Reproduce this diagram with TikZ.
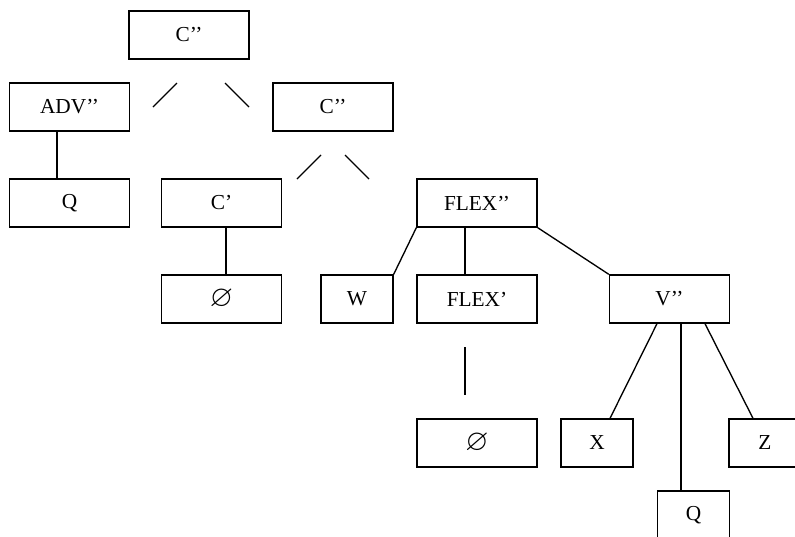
\documentclass[tikz,border=0pt]{standalone}
\usepackage{amssymb}
\usepackage{graphicx}
\usepackage{fontspec}
\setmainfont{Liberation Serif}
\usetikzlibrary{calc}
\newcommand{\nullcat}{\raisebox{-0.5pt}{\scalebox{1.4}{$\varnothing$}}}
\begin{document}
\begin{tikzpicture}[x=0.75pt,y=-0.75pt,
  every node/.style={font=\fontsize{16pt}{19pt}\selectfont},
  wide/.style={draw,line width=1pt,rectangle,inner sep=0pt,minimum width=90pt,minimum height=36pt},
  narrow/.style={draw,line width=1pt,rectangle,inner sep=0pt,minimum width=54pt,minimum height=36pt},
  link/.style={line width=1pt}]
\useasboundingbox (0,0) rectangle (795,536);
\clip (0,0) rectangle (795,536);

% tree nodes
\node[wide]   (top)   at (189,35)    {C’’};
\node[wide]   (adv)   at (69.5,107)  {ADV’’};
\node[wide]   (cbar2) at (333,107)   {C’’};
\node[wide]   (qa)    at (69.5,203)  {Q};
\node[wide]   (cbar1) at (221.5,203) {C’};
\node[wide]   (flex2) at (477,203)   {FLEX’’};
\node[wide]   (nulla) at (221.5,299) {\nullcat};
\node[narrow] (w)     at (357,299)   {W};
\node[wide]   (flex1) at (477,299)   {FLEX’};
\node[wide]   (v2)    at (669.5,299) {V’’};
\node[wide]   (nullb) at (477,443)   {\nullcat};
\node[narrow] (x)     at (597,443)   {X};
\node[narrow] (z)     at (765,443)   {Z};
\node[narrow] (qb)    at (693.5,515) {Q};

% free-standing branch strokes
\coordinate (a1) at (153,107); \coordinate (a2) at (177,83);
\coordinate (b1) at (225,83);  \coordinate (b2) at (249,107);
\coordinate (c1) at (297,179); \coordinate (c2) at (321,155);
\coordinate (d1) at (345,155); \coordinate (d2) at (369,179);
\coordinate (e1) at (465,347); \coordinate (e2) at (465,395);
\draw[link] (a1) -- (a2);
\draw[link] (b1) -- (b2);
\draw[link] (c1) -- (c2);
\draw[link] (d1) -- (d2);
\draw[link] (e1) -- (e2);

% connectors
\draw[link] ($(adv.south)+(-12.5,0)$) -- ($(qa.north)+(-12.5,0)$);
\draw[link] ($(cbar1.south)+(4.5,0)$) -- ($(nulla.north)+(4.5,0)$);
\draw[link] (flex2.south west) -- (w.north east);
\draw[link] ($(flex2.south)+(-12,0)$) -- ($(flex1.north)+(-12,0)$);
\draw[link] (flex2.south east) -- (v2.north west);
\draw[link] ($(v2.south)+(-12.5,0)$) -- ($(x.north)+(13,0)$);
\draw[link] ($(v2.south)+(11.5,0)$) -- ($(qb.north)+(-12.5,0)$);
\draw[link] ($(v2.south)+(35.5,0)$) -- ($(z.north)+(-12,0)$);
\end{tikzpicture}
\end{document}
